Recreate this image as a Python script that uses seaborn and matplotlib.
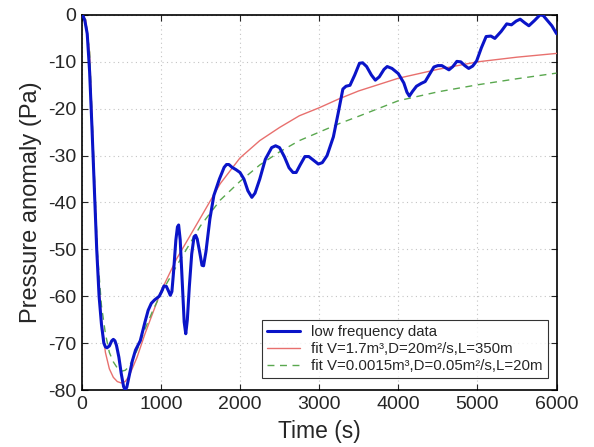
import matplotlib
matplotlib.use("Agg")
import matplotlib.pyplot as plt
import seaborn as sns
import pandas as pd

# Low frequency data (time s, pressure anomaly Pa)
blue_t = [0, 20, 40, 70, 100, 130, 160, 190, 220, 250, 280, 300, 320, 350, 380, 400, 420, 440, 470,
          500, 530, 550, 570, 600, 640, 680, 740, 800, 840, 880, 920, 980, 1010, 1040, 1070, 1100,
          1120, 1140, 1160, 1190, 1210, 1225, 1245, 1270, 1295, 1315, 1335, 1360, 1390, 1420, 1440,
          1460, 1490, 1520, 1540, 1570, 1620, 1670, 1740, 1800, 1830, 1860, 1900, 1950, 2000, 2050,
          2100, 2150, 2190, 2250, 2320, 2400, 2450, 2500, 2560, 2620, 2670, 2710, 2760, 2820, 2870,
          2930, 2990, 3040, 3100, 3180, 3240, 3300, 3340, 3390, 3450, 3510, 3550, 3600, 3660, 3710,
          3760, 3820, 3860, 3920, 4000, 4070, 4110, 4140, 4180, 4230, 4290, 4340, 4400, 4450, 4500,
          4550, 4600, 4640, 4690, 4740, 4790, 4840, 4890, 4940, 4990, 5050, 5110, 5170, 5220, 5300,
          5370, 5430, 5490, 5540, 5600, 5650, 5720, 5790, 5830, 5870, 5940, 6000]
blue_p = [0, -0.3, -1.2, -4, -12, -24, -37, -50, -60, -66, -70, -70.8, -71, -70.6, -69.5, -69.2,
          -69.5, -70.5, -73, -76.5, -79.3, -80, -79.4, -77, -73.8, -71.5, -69.5, -65.5, -63, -61.5,
          -60.8, -60, -59, -57.8, -57.9, -59, -59.8, -59, -55, -48, -45.2, -44.8, -48, -57, -65.5,
          -68, -65, -58, -51, -47.3, -47, -47.8, -50.5, -53.4, -53.5, -50.5, -43.5, -38.5, -35, -32.5,
          -31.9, -31.9, -32.5, -33, -33.6, -35, -37.5, -38.9, -38, -35, -30.8, -28.3, -27.9, -28.3,
          -30.2, -32.6, -33.6, -33.6, -32, -30.2, -30.2, -31, -31.8, -31.5, -30, -26, -21, -15.8,
          -15.2, -15, -12.8, -10.3, -10.2, -11, -12.8, -13.9, -13.2, -11.6, -11, -11.4, -12.5, -14.5,
          -16.5, -17.3, -16.3, -15.2, -14.6, -14.2, -12.5, -11.1, -10.8, -10.8, -11.3, -11.7, -11,
          -9.9, -10, -10.8, -11.4, -10.9, -9.8, -7, -4.6, -4.5, -5, -3.5, -1.9, -2.1, -1.3, -0.9,
          -1.7, -2.3, -1.2, 0, -0.1, -0.9, -2.3, -4]

# Fit V=1.7 m3
red_t = [0, 50, 100, 150, 200, 250, 300, 350, 400, 450, 500, 550, 600, 700, 800, 900, 1000, 1200,
         1500, 1750, 2000, 2250, 2500, 2750, 3000, 3250, 3500, 4000, 4500, 5000, 5500, 6000]
red_p = [0, -1, -8, -30, -52, -65, -72, -75.5, -77.3, -78.2, -78.5, -78.2, -77, -73, -68, -63.5, -59,
         -52, -43.3, -36, -30.5, -26.8, -24, -21.5, -19.8, -17.9, -16.2, -13.5, -11.6, -10, -9, -8.2]

# Fit V=0.0015 m3
green_t = [0, 50, 100, 150, 200, 250, 300, 350, 400, 450, 500, 550, 600, 700, 800, 900, 1000, 1200,
           1500, 1750, 2000, 2250, 2500, 2750, 3000, 3250, 3500, 4000, 4500, 5000, 5500, 6000]
green_p = [0, -1, -8, -30, -51, -62, -68, -72, -74, -75.3, -76, -75.8, -75, -71.5, -67, -63, -59.5,
           -53.5, -45, -39.5, -35.5, -32, -29.2, -26.8, -25, -23.2, -21.6, -18.3, -16.4, -14.9, -13.6, -12.4]

labels = ["low frequency data",
          "fit V=1.7m³,D=20m²/s,L=350m",
          "fit V=0.0015m³,D=0.05m²/s,L=20m"]
xticks = [0, 1000, 2000, 3000, 4000, 5000, 6000]
yticks = [-80, -70, -60, -50, -40, -30, -20, -10, 0]

sns.set_style("ticks")
plt.rcParams["font.family"] = ["Liberation Sans", "DejaVu Sans"]
plt.rcParams["axes.unicode_minus"] = False

fig = plt.figure(figsize=(5.94, 4.47), dpi=100)
ax = fig.add_axes([0.1375, 0.1275, 0.7995, 0.839])

df_b = pd.DataFrame({"t": blue_t, "p": blue_p})
df_r = pd.DataFrame({"t": red_t, "p": red_p})
df_g = pd.DataFrame({"t": green_t, "p": green_p})

sns.lineplot(data=df_b, x="t", y="p", ax=ax, color="#0a14c8", lw=2.2, label=labels[0], sort=False,
             zorder=4, solid_joinstyle="round")
sns.lineplot(data=df_r, x="t", y="p", ax=ax, color="#e8706e", lw=1.0, label=labels[1], sort=False, zorder=3)
sns.lineplot(data=df_g, x="t", y="p", ax=ax, color="#5aa84f", lw=1.0, label=labels[2], sort=False, zorder=3)
ax.lines[2].set_dashes([5, 4])

ax.set_xlim(0, 6000)
ax.set_ylim(-80, 0)
ax.set_xticks(xticks)
ax.set_yticks(yticks)
ax.tick_params(direction="in", top=True, right=True, labelsize=14, length=4, width=0.8, pad=4)
for s in ax.spines.values():
    s.set_visible(True)
    s.set_linewidth(1.2)
    s.set_color("black")
ax.grid(True, linestyle=(0, (1, 3)), color="#c4c4c4", lw=0.8)
ax.set_xlabel("Time (s)", fontsize=16.5, labelpad=5)
ax.set_ylabel("Pressure anomaly (Pa)", fontsize=17, labelpad=4)

leg = ax.legend(loc="lower right", fontsize=10.8, frameon=True, fancybox=False,
                edgecolor="black", handlelength=2.2, borderpad=0.35, labelspacing=0.2,
                handletextpad=0.7, bbox_to_anchor=(0.997, 0.012))
leg.get_frame().set_linewidth(0.8)

fig.savefig("out.png", dpi=100)
